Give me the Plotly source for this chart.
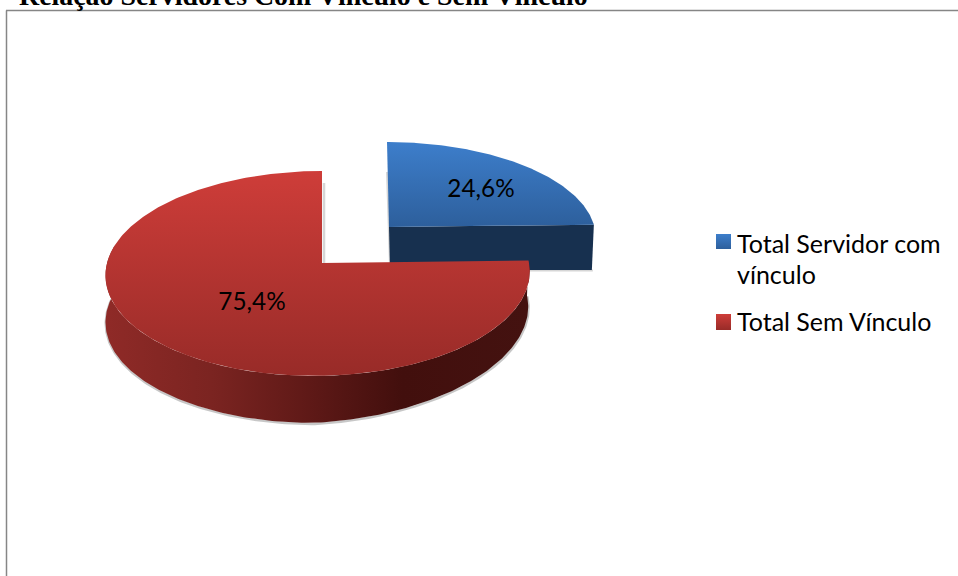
import numpy as np
import plotly.graph_objects as go

# Chart content
titulo = "Relação Servidores Com Vínculo e Sem Vínculo"
categorias = ["Total Servidor com<br>vínculo", "Total Sem Vínculo"]
percentuais = [24.6, 75.4]

FONTE = "Lato"
TAM_ROTULO = 24.3
TAM_LEGENDA = 25


def projeta(ang, disco):
    """Maps pie angles (degrees clockwise from 12 o'clock) on to the tilted disc."""
    a = np.radians(ang)
    u, v = np.sin(a), np.cos(a)
    w = 1 + disco["persp"] * v
    x = disco["cx"] + disco["rx"] * u / w + disco["shear"] * v
    y = disco["cy"] - disco["ry"] * v / w
    return x, y, u


def parede(ang, disco):
    """Outer wall of a slice: upper rim plus the lower rim, offset by the thickness."""
    x, y, u = projeta(ang, disco)
    # The wall looks thinner towards the right because of the viewing angle
    yb = y + disco["prof"] - disco["prof_dir"] * np.clip(u, 0, 1)
    return x, y, x - 1.5 * np.clip(u, 0, 1), yb


def poligono(fig, x, y, grad, tipo):
    fig.add_trace(go.Scatter(
        x=x, y=y, mode="lines", fill="toself", line=dict(width=0),
        fillgradient=dict(type=tipo, colorscale=[[p, c] for p, c in grad]),
        hoverinfo="skip", showlegend=False,
    ))


def contorno(fig, x, y, cor, largura):
    fig.add_trace(go.Scatter(
        x=x, y=y, mode="lines", line=dict(color=cor, width=largura),
        hoverinfo="skip", showlegend=False,
    ))


angulo_azul = percentuais[0] / sum(percentuais) * 360

disco_azul = dict(cx=389, cy=227, rx=205.5, ry=93.7, persp=0.102, shear=-2, prof=43)
disco_verm = dict(cx=318, cy=263, rx=211, ry=101.4, persp=0.102, shear=4, prof=47, prof_dir=12)
apice_verm = (322, 263)

AZUL_TOPO = [(0, "#2d5f9c"), (1, "#3d7ecb")]
AZUL_PAREDE = [(0, "#17304f"), (1, "#17304f")]
VERM_TOPO = [(0, "#982b28"), (1, "#ce3d39")]
VERM_PAREDE = [(0, "#8f2a27"), (0.25, "#7b2421"), (0.5, "#5c1816"),
               (0.7, "#420f0d"), (1, "#441210")]

fig = go.Figure()

# Blue slice, pulled out of the pie
ax, ay, _ = projeta(np.linspace(0, angulo_azul, 160), disco_azul)
px, py = disco_azul["cx"], disco_azul["cy"]
base_azul = py + disco_azul["prof"]
contorno(fig, [ax[0], px + 1], [ay[0] + 30, base_azul - 6], "rgba(90,90,90,0.25)", 2)
contorno(fig, [px, ax[-1] - 1], [base_azul + 0.5, base_azul + 0.5], "rgba(90,90,90,0.25)", 2)
pontas = np.array([px, ax[-1], ax[-1] - 2, px + 1])
alturas = np.array([py, ay[-1], base_azul, base_azul])
poligono(fig, np.r_[pontas, pontas[0]], np.r_[alturas, alturas[0]], AZUL_PAREDE, "horizontal")
poligono(fig, np.r_[px, ax, px], np.r_[py, ay, py], AZUL_TOPO, "vertical")

# Red slice: soft shadow, wall, then the top face
ang_parede = np.linspace(angulo_azul, 280, 240)
tx, ty, bx, by = parede(ang_parede, disco_verm)
contorno(fig, bx + 0.3, by + 1, "rgba(70,70,70,0.3)", 2.5)
poligono(fig, np.r_[tx, bx[::-1], tx[0]], np.r_[ty, by[::-1], ty[0]], VERM_PAREDE, "horizontal")

rx_, ry_, _ = projeta(np.linspace(angulo_azul, 360, 300), disco_verm)
contorno(fig, [apice_verm[0] + 2, apice_verm[0] + 2], [ry_[-1] + 12, apice_verm[1]],
         "rgba(90,90,90,0.25)", 2.5)
poligono(fig, np.r_[apice_verm[0], rx_, apice_verm[0]], np.r_[apice_verm[1], ry_, apice_verm[1]],
         VERM_TOPO, "vertical")

# Value labels
rotulos = [f"{p:.1f}%".replace(".", ",") for p in percentuais]
fig.add_trace(go.Scatter(
    x=[481, 252], y=[191, 304], mode="text", text=rotulos,
    textposition="middle center",
    textfont=dict(family=FONTE, size=TAM_ROTULO, color="#000000"),
    hoverinfo="skip", showlegend=False,
))

# Legend swatches
for (x0, x1, y0, y1), grad in (((716, 731, 234, 249), AZUL_TOPO), ((716, 731, 314, 330), VERM_TOPO)):
    poligono(fig, [x0, x1, x1, x0, x0], [y0, y0, y1, y1, y0], grad, "vertical")

# Legend text, one annotation per line to control the line spacing
linhas_legenda = categorias[0].split("<br>") + categorias[1].split("<br>")
for texto, y in zip(linhas_legenda, (242.5, 273.5, 321)):
    fig.add_annotation(x=735, y=y, xref="x", yref="y", xanchor="left", yanchor="middle",
                       align="left", showarrow=False, text=texto,
                       font=dict(family=FONTE, size=TAM_LEGENDA, color="#000000"))

# Heading, sitting on the top edge of the chart frame
fig.add_annotation(x=17 / 958, y=1 + 4.5 / 576, xref="paper", yref="paper", xanchor="left",
                   yanchor="middle", showarrow=False, text=f"<b>{titulo}</b>",
                   font=dict(family="Liberation Serif", size=27.9, color="#000000"))

# Chart frame
fig.add_shape(type="line", x0=6.5, x1=6.5, y0=10.5, y1=576, line=dict(color="#868686", width=1.5))
fig.add_shape(type="line", x0=6, x1=958, y0=10.5, y1=10.5, line=dict(color="#868686", width=1.5))

fig.update_layout(
    width=958, height=576, margin=dict(l=0, r=0, t=0, b=0),
    paper_bgcolor="#ffffff", plot_bgcolor="#ffffff", showlegend=False,
    xaxis=dict(range=[0, 958], visible=False, fixedrange=True),
    yaxis=dict(range=[576, 0], visible=False, fixedrange=True),
)

fig.write_html("out.html")
